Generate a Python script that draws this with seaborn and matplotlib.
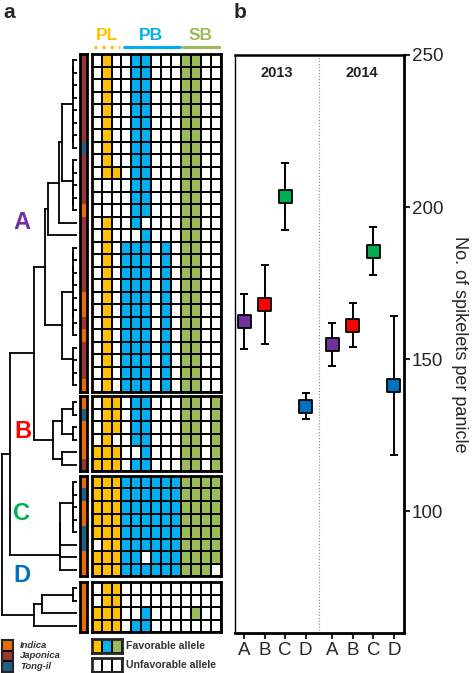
import numpy as np
import pandas as pd
import matplotlib
matplotlib.use('Agg')
import matplotlib.pyplot as plt
from matplotlib.colors import ListedColormap
import seaborn as sns

sns.set_style('white')
plt.rcParams['font.family'] = ['Liberation Sans', 'DejaVu Sans']

# ---------------- data ----------------
groups = ['A', 'B', 'C', 'D']
group_colors = ['#7030A0', '#FF0000', '#00B050', '#0070C0']
traits = ['PL', 'PB', 'SB']
trait_colors = ['#FFC000', '#00B0F0', '#9BBB59']
trait_ncols = [3, 6, 4]
subpop_names = ['Indica', 'Japonica', 'Tong-il']
subpop_codes = ['I', 'J', 'T']
subpop_colors = ['#E46C0A', '#953735', '#1F5F80']

# favorable (1) / unfavorable (0) allele per accession (rows) and locus (cols)
alleles_A = ["0100110001100"] * 9 + ["0110110001100"] + ["0000110001100"] * 3 + \
            ["0100100001100", "0100010001100"] + ["0101110101100"] * 12
alleles_B = ["0110110001101"] * 3 + ["0100110001101", "1110010001101", "1110110001101"]
alleles_C = ["1111111111111"] * 5 + ["0111111111111", "1111101111111", "1111111111110"]
alleles_D = ["0110000000000"] * 2 + ["1110010000100", "1110110000000"]
alleles = [alleles_A, alleles_B, alleles_C, alleles_D]

subpop_A = "JJJJJJJTJJJJIJJJJJJIIJIJJJI"
subpop_B = "ITIIIJ"
subpop_C = "ITIITTII"
subpop_D = "IIII"
subpops = [subpop_A, subpop_B, subpop_C, subpop_D]

# dendrogram: [merge distance, left, right]; ints are accession indices
tree_A = [32,
          [29, [18, [15, [4, [4, [4, 0, 1], [4, 2, 3]], [4, [4, 4, 5], [4, 6, 7]]],
                     [4, [4, 8, 9], [4, 10, [4, 11, 12]]]], 13], 14],
          [15, [4, [4, [4, 15, 16], [4, 17, 18]], [4, [4, 19, 20], [4, 21, 22]]],
               [4, 23, [4, 24, [4, 25, 26]]]]]
tree_B = [24, [15, [4, 27, 28], [4, 29, 30]], [15, 31, 32]]
tree_C = [17, [17, [17, [4, [4, 33, 34], [4, 35, [4, 36, 37]]], 38], 39], 40]
tree_D = [43, [35, [4, 41, 42], 43], 44]
tree = [75, [67, [43, tree_A, tree_B], tree_C], tree_D]

# panel b
years = ['2013'] * 4 + ['2014'] * 4
clusters = ['A', 'B', 'C', 'D'] * 2
spikelets = [162.5, 168.0, 203.6, 134.5, 154.8, 161.2, 185.5, 141.4]
spikelet_err = [9.0, 13.0, 11.0, 4.3, 7.1, 7.2, 7.8, 22.9]

# ---------------- layout helpers ----------------
W, H = 473, 673
fig = plt.figure(figsize=(W / 100, H / 100), dpi=100)


def add_ax(x0, y0, x1, y1):
    return fig.add_axes([x0 / W, 1 - y1 / H, (x1 - x0) / W, (y1 - y0) / H])


def ftext(x, y, s, **kw):
    fig.text(x / W, 1 - y / H, s, **kw)


group_tops = [54, 396, 476, 582]
row_h = 12.5
grid_x0, grid_x1 = 91.7, 220.7
strip_x0, strip_x1 = 79.5, 87.3

allele_cmap = ListedColormap(['white'] + trait_colors)
sub_cmap = ListedColormap(subpop_colors)
col_trait = np.repeat(np.arange(1, 4), trait_ncols)

leaf_y = []
for gi, rows in enumerate(alleles):
    top = group_tops[gi]
    bot = top + row_h * len(rows)
    mat = np.array([[int(c) for c in r] for r in rows]) * col_trait[None, :]
    ax = add_ax(grid_x0, top, grid_x1, bot)
    sns.heatmap(mat, ax=ax, cmap=allele_cmap, vmin=-0.5, vmax=3.5, cbar=False,
                linewidths=1.1, linecolor='black', xticklabels=False, yticklabels=False)
    for sp in ax.spines.values():
        sp.set_visible(True); sp.set_linewidth(2.0); sp.set_color('black')
    # subpopulation strip
    sub = np.array([[subpop_codes.index(c)] for c in subpops[gi]])
    axs = add_ax(strip_x0, top, strip_x1, bot)
    sns.heatmap(sub, ax=axs, cmap=sub_cmap, vmin=-0.5, vmax=2.5, cbar=False,
                linewidths=0, xticklabels=False, yticklabels=False)
    for sp in axs.spines.values():
        sp.set_visible(True); sp.set_linewidth(2.0); sp.set_color('black')
    for k in range(len(rows)):
        leaf_y.append(top + row_h * (k + 0.5))

# ---------------- dendrogram ----------------
axd = add_ax(0, 0, 77, H)
axd.set_xlim(77, 0)
axd.set_ylim(H, 0)
axd.axis('off')


def draw(node):
    if isinstance(node, int):
        return leaf_y[node], 0.0
    d, l, r = node
    yl, dl = draw(l)
    yr, dr = draw(r)
    kw = dict(color='black', lw=1.3, solid_capstyle='projecting')
    axd.plot([dl, d], [yl, yl], **kw)
    axd.plot([dr, d], [yr, yr], **kw)
    axd.plot([d, d], [yl, yr], **kw)
    return (yl + yr) / 2, d


draw(tree)

letter_pos = [(22, 223), (22.5, 432), (21, 514), (21.5, 575)]
for g, c, (x, y) in zip(groups, group_colors, letter_pos):
    ftext(x, y, g, color=c, fontsize=17, fontweight='bold', ha='center', va='center')

# ---------------- header ----------------
axh = add_ax(grid_x0, 22, grid_x1, 50)
axh.set_xlim(0, 13)
axh.set_ylim(0, 1)
axh.axis('off')
start = 0
for t, c, n in zip(traits, trait_colors, trait_ncols):
    axh.text(start + n / 2, 0.5, t, color=c, fontsize=12.5, fontweight='bold',
             ha='center', va='center')
    ls = ':' if t == 'PL' else '-'
    axh.plot([start + 0.25, start + n - 0.1], [0.1, 0.1], color=c, lw=2.2, ls=ls)
    start += n

# ---------------- legends (bottom) ----------------
axl = add_ax(2, 640, 13, 672)
sns.heatmap(np.array([[0], [1], [2]]), ax=axl, cmap=sub_cmap, vmin=-0.5, vmax=2.5,
            cbar=False, linewidths=1.3, linecolor='black', xticklabels=False, yticklabels=False)
for sp in axl.spines.values():
    sp.set_visible(True); sp.set_linewidth(1.5)
for k, nm in enumerate(subpop_names):
    ftext(20, 640 + 32 / 3 * (k + 0.5), nm, fontsize=6.8, fontweight='bold',
          style='italic', color='#333333', va='center', ha='left')

axf = add_ax(92.3, 639, 122.3, 653)
sns.heatmap(np.array([[1, 2, 3]]), ax=axf, cmap=allele_cmap, vmin=-0.5, vmax=3.5,
            cbar=False, linewidths=1.3, linecolor='black', xticklabels=False, yticklabels=False)
axu = add_ax(92.3, 658, 122.3, 672)
sns.heatmap(np.array([[0, 0, 0]]), ax=axu, cmap=allele_cmap, vmin=-0.5, vmax=3.5,
            cbar=False, linewidths=1.3, linecolor='black', xticklabels=False, yticklabels=False)
for a in (axf, axu):
    for sp in a.spines.values():
        sp.set_visible(True); sp.set_linewidth(2.0)
ftext(126.5, 646, 'Favorable allele', fontsize=7.6, fontweight='bold', color='#333333', va='center')
ftext(126.5, 665, 'Unfavorable allele', fontsize=7.6, fontweight='bold', color='#333333', va='center')

# ---------------- panel b ----------------
year_offset = {'2013': 0.0, '2014': 4.3}
df = pd.DataFrame({'year': years, 'cluster': clusters, 'value': spikelets, 'err': spikelet_err})
df['pos'] = [groups.index(c) + year_offset[y] for c, y in zip(df.cluster, df.year)]

axb = add_ax(235, 55, 404, 633)
axb.errorbar(df['pos'], df['value'], yerr=df['err'], fmt='none', ecolor='black',
             elinewidth=1.4, capsize=3, capthick=1.4, zorder=2)
sns.scatterplot(data=df, x='pos', y='value', hue='cluster',
                palette=dict(zip(groups, group_colors)), marker='s', s=85,
                edgecolor='black', linewidth=1.3, legend=False, ax=axb, zorder=3)
xl = (-0.45, 7.8)
divider = 3.65
axb.set_xlim(*xl)
axb.set_ylim(60, 250)
axb.axvline(divider, color='#888888', lw=0.8, ls=':')
axb.set_xticks(df['pos'])
axb.set_xticklabels(df['cluster'])
axb.set_yticks([100, 150, 200, 250])
axb.yaxis.tick_right()
axb.yaxis.set_label_position('right')
axb.tick_params(axis='y', left=False, right=True, labelleft=False, labelright=True,
                length=4, width=1.5, labelsize=13.5, pad=1.5, direction='out')
axb.tick_params(axis='x', bottom=True, length=4, width=1.5, labelsize=13.5, pad=2.5, direction='out')
axb.set_xlabel('')
axb.set_ylabel('No. of spikelets per panicle', rotation=270, fontsize=13, labelpad=18)
for side, lw in zip(['top', 'right', 'bottom', 'left'], [1.8, 2.0, 2.0, 1.0]):
    axb.spines[side].set_visible(True)
    axb.spines[side].set_linewidth(lw)
    axb.spines[side].set_color('black')
for yr, xc in zip(['2013', '2014'], [(xl[0] + divider) / 2, (divider + xl[1]) / 2]):
    axb.text(xc, 0.969, yr, transform=axb.get_xaxis_transform(), ha='center', va='center',
             fontsize=10.5, fontweight='bold', color='#222222')

ftext(9, 12, 'a', fontsize=15, fontweight='bold', ha='center', va='center')
ftext(240, 12, 'b', fontsize=15, fontweight='bold', ha='center', va='center')

fig.savefig('out.png', dpi=100)
